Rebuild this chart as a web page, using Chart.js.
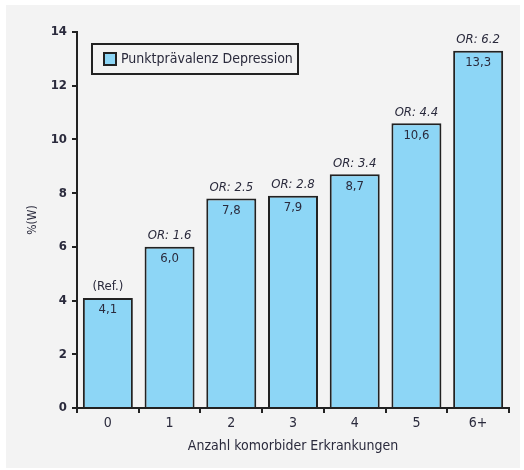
<!DOCTYPE html>
<html>
<head>
<meta charset="utf-8">
<script src="https://cdn.jsdelivr.net/npm/chart.js@4/dist/chart.umd.min.js"></script>
<style>
  html, body { margin: 0; padding: 0; background: #ffffff; }
  #wrap { width: 524px; height: 470px; position: relative; }
</style>
</head>
<body>
<div id="wrap"><canvas id="c" width="524" height="470"></canvas></div>
<script>
// Anzahl komorbider Erkrankungen
const categories = ['0', '1', '2', '3', '4', '5', '6+'];
// Punktprävalenz Depression in %
const prevalence = [4.1, 6.0, 7.8, 7.9, 8.7, 10.6, 13.3];
// Odds Ratios (Referenzgruppe: 0 Erkrankungen)
const oddsRatios = [null, 1.6, 2.5, 2.8, 3.4, 4.4, 6.2];
const yTicks = [0, 2, 4, 6, 8, 10, 12, 14];

const FONT = '"DejaVu Sans Condensed", "Liberation Sans Narrow", sans-serif';
const TEXT = '#2a2a3c';
const BAR = '#8dd6f6';
const EDGE = '#222222';

const fmtComma = v => v.toFixed(1).replace('.', ',');

// grey panel behind the whole figure
const panelPlugin = {
  id: 'panel',
  beforeDraw(chart) {
    const ctx = chart.ctx;
    ctx.save();
    ctx.fillStyle = '#f3f3f3';
    ctx.fillRect(6, 5, 514, 463);
    ctx.restore();
  }
};

// value labels inside the bars and OR labels above them
const labelPlugin = {
  id: 'barLabels',
  afterDatasetsDraw(chart) {
    const ctx = chart.ctx;
    const meta = chart.getDatasetMeta(0);
    ctx.save();
    ctx.fillStyle = TEXT;
    ctx.textAlign = 'center';
    ctx.textBaseline = 'middle';
    meta.data.forEach((bar, i) => {
      ctx.font = '13px ' + FONT;
      ctx.fillText(fmtComma(prevalence[i]), bar.x, bar.y + 12);
      const top = oddsRatios[i] === null ? '(Ref.)' : 'OR: ' + oddsRatios[i].toFixed(1);
      ctx.font = (oddsRatios[i] === null ? '' : 'italic ') + '13px ' + FONT;
      ctx.fillText(top, bar.x, bar.y - 11);
    });
    ctx.restore();
  }
};

// framed legend inside the plot area
const legendPlugin = {
  id: 'boxLegend',
  afterDraw(chart) {
    const ctx = chart.ctx;
    const ds = chart.data.datasets[0];
    ctx.save();
    ctx.lineWidth = 2;
    ctx.strokeStyle = EDGE;
    ctx.strokeRect(92, 44, 206, 30);
    ctx.fillStyle = ds.backgroundColor;
    ctx.fillRect(104, 53, 12, 12);
    ctx.strokeRect(104, 53, 12, 12);
    ctx.fillStyle = TEXT;
    ctx.font = '14px ' + FONT;
    ctx.textAlign = 'left';
    ctx.textBaseline = 'middle';
    ctx.fillText(ds.label, 121, 59);
    ctx.restore();
  }
};

new Chart(document.getElementById('c'), {
  type: 'bar',
  data: {
    labels: categories,
    datasets: [{
      label: 'Punktprävalenz Depression',
      data: prevalence,
      backgroundColor: BAR,
      borderColor: EDGE,
      borderWidth: 2,
      borderSkipped: 'bottom',
      barPercentage: 0.81,
      categoryPercentage: 1.0
    }]
  },
  options: {
    responsive: false,
    animation: false,
    devicePixelRatio: 1,
    layout: { padding: { left: 0, top: 32, right: 15, bottom: 0 } },
    plugins: {
      legend: { display: false },
      tooltip: { enabled: false }
    },
    scales: {
      x: {
        afterFit: s => { s.height = 62; },
        border: { color: EDGE, width: 2 },
        grid: { offset: true, drawOnChartArea: false, drawTicks: true, tickLength: 5, color: EDGE, lineWidth: 2 },
        ticks: { color: TEXT, font: { family: FONT, size: 14 }, padding: 2 },
        title: { display: true, text: 'Anzahl komorbider Erkrankungen', color: TEXT,
                 font: { family: FONT, size: 14 }, padding: { top: 0, bottom: 15 } }
      },
      y: {
        min: 0, max: 14,
        afterFit: s => { s.width = 77; },
        afterBuildTicks: s => { s.ticks = yTicks.map(v => ({ value: v })); },
        border: { color: EDGE, width: 2 },
        grid: { drawOnChartArea: false, drawTicks: true, tickLength: 5, color: EDGE, lineWidth: 2 },
        ticks: { color: TEXT, font: { family: FONT, size: 13, weight: 'bold' }, padding: 5 },
        title: { display: true, text: '%(W)', color: TEXT,
                 font: { family: FONT, size: 12 }, padding: { top: 26, bottom: 0 } }
      }
    }
  },
  plugins: [panelPlugin, labelPlugin, legendPlugin]
});
</script>
</body>
</html>
